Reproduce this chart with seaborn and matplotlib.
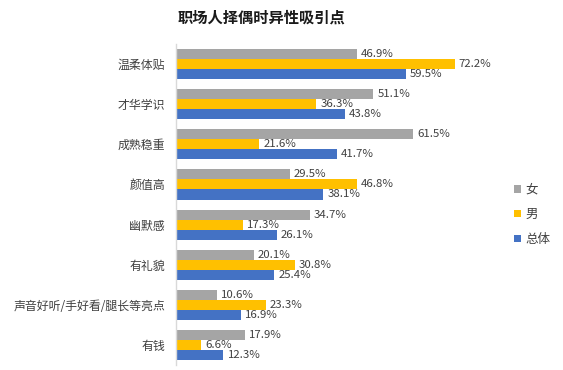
import pandas as pd
import matplotlib.pyplot as plt
import seaborn as sns

categories = ['温柔体贴', '才华学识', '成熟稳重', '颜值高', '幽默感', '有礼貌',
              '声音好听/手好看/腿长等亮点', '有钱']
female = [46.9, 51.1, 61.5, 29.5, 34.7, 20.1, 10.6, 17.9]
male = [72.2, 36.3, 21.6, 46.8, 17.3, 30.8, 23.3, 6.6]
overall = [59.5, 43.8, 41.7, 38.1, 26.1, 25.4, 16.9, 12.3]
series = ['女', '男', '总体']
colors = ['#A5A5A5', '#FFC000', '#4472C4']

rows = []
for name, vals in zip(series, [female, male, overall]):
    for cat, v in zip(categories, vals):
        rows.append({'类别': cat, '组': name, '值': v})
df = pd.DataFrame(rows)

sns.set_theme(style="white")
plt.rcParams['font.family'] = ['Noto Sans CJK SC', 'DejaVu Sans']

fig = plt.figure(figsize=(5.63, 3.70), dpi=100)
ax = fig.add_axes([0.3126, 0.0135, 0.5484, 0.8675])

sns.barplot(data=df, y='类别', x='值', hue='组', order=categories, hue_order=series,
            palette=colors, saturation=1, width=0.75, linewidth=0, edgecolor='none',
            ax=ax, legend=True)

for cont in ax.containers:
    ax.bar_label(cont, labels=[f'{w:.1f}%' for w in cont.datavalues],
                 padding=3, fontsize=8.2, color='#404040')

ax.set_xlim(0, 80)
ax.set_ylim(7.5, -0.5)
ax.set_xlabel('')
ax.set_ylabel('')
ax.set_xticks([])
ax.tick_params(axis='y', length=0, labelsize=8.6, labelcolor='#404040', pad=8)
for s in ['top', 'right', 'bottom']:
    ax.spines[s].set_visible(False)
ax.spines['left'].set_color('#D9D9D9')
ax.spines['left'].set_linewidth(1)

handles, labels = ax.get_legend_handles_labels()
ax.legend(handles, labels, loc='center left', bbox_to_anchor=(0.893, 0.42),
          bbox_transform=fig.transFigure, frameon=False, fontsize=9,
          handlelength=0.55, handleheight=0.55, handletextpad=0.35, labelspacing=0.95,
          labelcolor='#404040')

fig.text(0.465, 0.952, '职场人择偶时异性吸引点', ha='center', va='center',
         fontsize=11, fontweight='bold', color='#1a1a1a')

plt.savefig('out.png', dpi=100)
